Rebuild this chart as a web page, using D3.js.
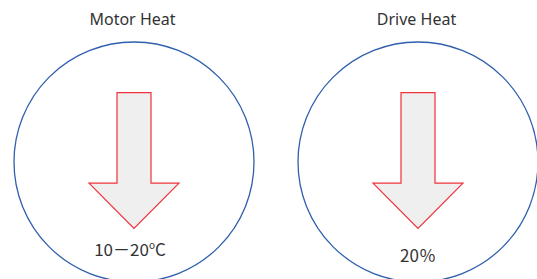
<!DOCTYPE html>
<html>
<head>
<meta charset="utf-8">
<script src="https://cdn.jsdelivr.net/npm/d3@7"></script>
<style>
  html, body { margin: 0; padding: 0; background: #fff; }
  svg { display: block; }
</style>
</head>
<body>
<div id="chart"></div>
<script>
// data
const titles = ["Motor Heat", "Drive Heat"];
const values = ["10－20", "20"];
const units = ["C", "％"];
const hasDegree = [true, false];

const WIDTH = 537;
const HEIGHT = 279;

const svg = d3.select("#chart")
  .append("svg")
  .attr("width", WIDTH)
  .attr("height", HEIGHT);

// panel centers
const x = d3.scaleLinear().domain([0, 1]).range([134, 418]);
// vertical layout of the arrow (0 = top, 1 = tip)
const y = d3.scaleLinear().domain([0, 1]).range([92.7, 228.3]);

const R = 120;
const CY = 162;
const SHAFT = 17;
const HEAD = 45;
const HEAD_START = 0.667;

const arrow = cx => {
  const p = d3.path();
  p.moveTo(cx - SHAFT, y(0));
  p.lineTo(cx + SHAFT, y(0));
  p.lineTo(cx + SHAFT, y(HEAD_START));
  p.lineTo(cx + HEAD, y(HEAD_START));
  p.lineTo(cx, y(1));
  p.lineTo(cx - HEAD, y(HEAD_START));
  p.lineTo(cx - SHAFT, y(HEAD_START));
  p.closePath();
  return p.toString();
};

const panel = svg.selectAll("g.panel")
  .data(titles)
  .enter()
  .append("g")
  .attr("class", "panel");

panel.append("circle")
  .attr("cx", (d, i) => x(i))
  .attr("cy", CY)
  .attr("r", R)
  .attr("fill", "none")
  .attr("stroke", "#2f5fae")
  .attr("stroke-width", 1.3);

panel.append("path")
  .attr("d", (d, i) => arrow(x(i)))
  .attr("fill", "#efefef")
  .attr("stroke", "#f0303a")
  .attr("stroke-width", 1.2);

panel.append("text")
  .attr("x", (d, i) => x(i) - 1.5)
  .attr("y", 25)
  .attr("text-anchor", "middle")
  .attr("font-family", "Noto Sans, sans-serif")
  .attr("font-size", 16)
  .attr("fill", "#333")
  .text(d => d);

const label = panel.append("text")
  .attr("x", (d, i) => i === 0 ? x(i) - 4 : x(i))
  .attr("y", (d, i) => i === 0 ? 256 : 262)
  .attr("text-anchor", "middle")
  .attr("font-family", "Noto Sans CJK SC, Noto Sans, sans-serif")
  .attr("font-size", 17)
  .attr("fill", "#333");

label.append("tspan").text((d, i) => values[i]);
label.filter((d, i) => hasDegree[i])
  .append("tspan")
  .attr("font-size", 10)
  .attr("dy", -7)
  .text("o");
label.append("tspan")
  .attr("dy", (d, i) => hasDegree[i] ? 7 : 0)
  .text((d, i) => units[i]);
</script>
</body>
</html>
